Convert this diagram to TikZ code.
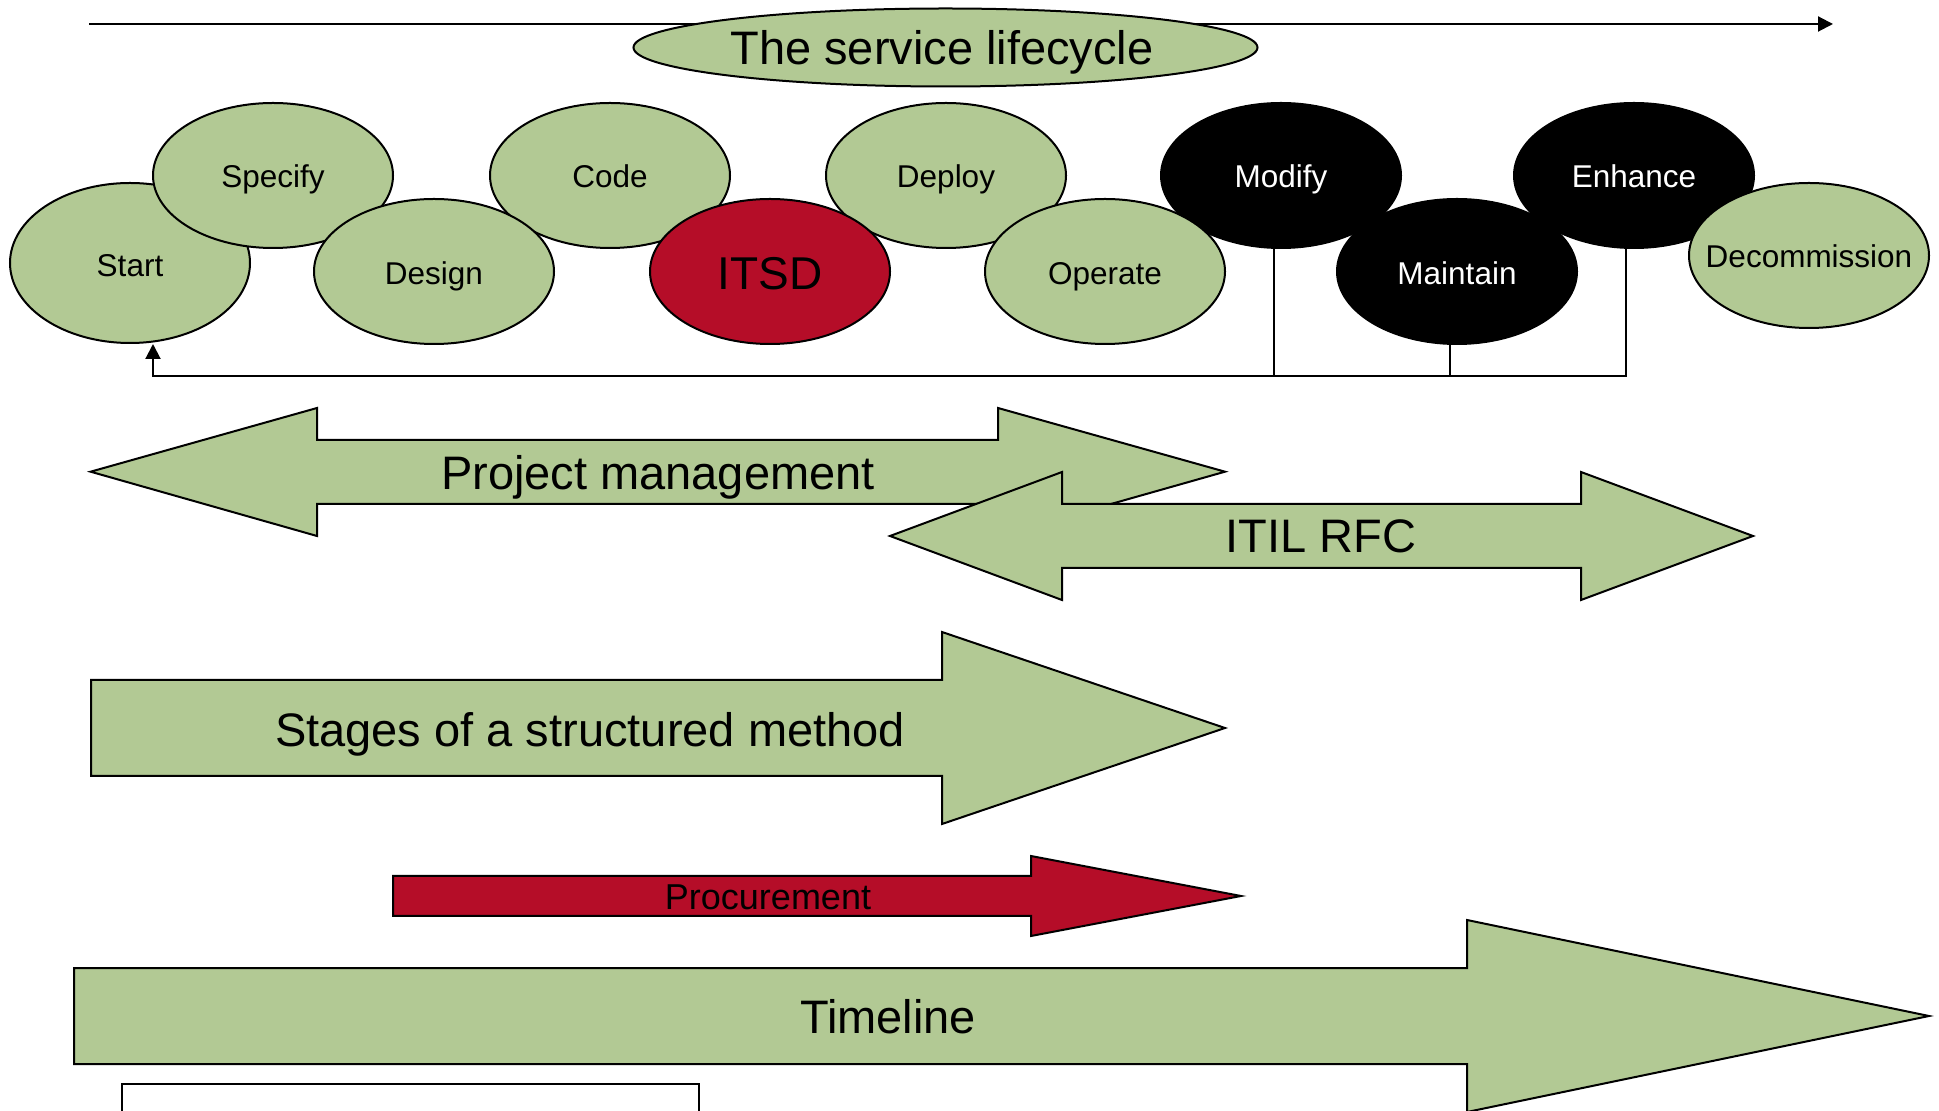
\documentclass[tikz,border=0pt]{standalone}
\usepackage{fontspec}
\setmainfont{Liberation Sans}
\usetikzlibrary{shapes.geometric,arrows.meta}
\definecolor{sage}{RGB}{178,201,148}
\definecolor{crimson}{RGB}{181,13,40}
\tikzset{
  conn/.style={draw=black, line width=1pt},
  tip/.style={-{Triangle[length=7.5pt,width=7.5pt]}},
  stage/.style={ellipse, draw=black, line width=1pt, fill=sage, inner sep=0pt,
                minimum width=120pt, minimum height=72.5pt},
  darkstage/.style={stage, fill=black},
  redstage/.style={stage, fill=crimson},
  lbl/.style={anchor=base, inner sep=0pt, font=\fontsize{15.75}{18}\selectfont},
  wlbl/.style={lbl, text=white},
  biglbl/.style={anchor=base, inner sep=0pt, font=\fontsize{23.5}{28}\selectfont},
  midlbl/.style={anchor=base, inner sep=0pt, font=\fontsize{18}{22}\selectfont},
  block/.style={draw=black, line width=1pt, fill=sage, line join=miter},
  redblock/.style={block, fill=crimson}
}
\begin{document}
\begin{tikzpicture}[x=0.5pt,y=-0.5pt]
\useasboundingbox (0,0) rectangle (1939,1111);
\clip (0,0) rectangle (1939,1111);

% lifecycle direction line and its title
\coordinate (lifeA) at (89,24);
\coordinate (lifeB) at (1833,24);
\draw[conn,tip] (lifeA) -- (lifeB);
\node[stage, minimum width=312pt, minimum height=39pt] (title) at (945.5,47.5) {};
\node[biglbl] (titleText) at (942,65) {The service lifecycle};

% lifecycle stages: back row first, front row on top
\node[stage, minimum height=80pt] (Start) at (130,263) {};
\node[stage] (Specify) at (273,175.5) {};
\node[stage] (Code) at (610,175.5) {};
\node[stage] (Deploy) at (946,175.5) {};
\node[darkstage] (Modify) at (1281,175.5) {};
\node[darkstage] (Enhance) at (1634,175.5) {};
\node[stage] (Design) at (434,271.5) {};
\node[redstage] (ITSD) at (770,271.5) {};
\node[stage] (Operate) at (1105,271.5) {};
\node[darkstage] (Maintain) at (1457,271.5) {};
\node[stage] (Decom) at (1809,255.5) {};

\node[lbl] (tStart) at (130,277) {Start};
\node[lbl] (tSpecify) at (273,188) {Specify};
\node[lbl] (tCode) at (610,188) {Code};
\node[lbl] (tDeploy) at (946,188) {Deploy};
\node[wlbl] (tModify) at (1281,188) {Modify};
\node[wlbl] (tEnhance) at (1634,188) {Enhance};
\node[lbl] (tDesign) at (434,285) {Design};
\node[anchor=base, inner sep=0pt, font=\fontsize{23}{27}\selectfont] (tITSD) at (770,290) {ITSD};
\node[lbl] (tOperate) at (1105,285) {Operate};
\node[wlbl] (tMaintain) at (1457,285) {Maintain};
\node[lbl] (tDecom) at (1809,268) {Decommission};

% feedback loop back to the start
\coordinate (loopL) at (153,376);
\draw[conn] ([xshift=-3.5pt]Modify.south) -- ([xshift=-3.5pt]Modify.south |- loopL);
\draw[conn] ([xshift=-3.5pt]Maintain.south) -- ([xshift=-3.5pt]Maintain.south |- loopL);
\draw[conn,tip] ([xshift=-4pt]Enhance.south) |- (loopL) -- (loopL |- Start.south);

% project management (double arrow)
\draw[block] (90.6,471.7) -- (317,408) -- (317,440) -- (998,440) -- (998,408)
  -- (1225,471.7) -- (998,536) -- (998,504) -- (317,504) -- (317,536) -- cycle;
\node[biglbl] (tPM) at (658,490) {Project management};

% ITIL RFC (double arrow)
\draw[block] (890,536) -- (1062,472) -- (1062,504) -- (1581,504) -- (1581,472)
  -- (1753,536) -- (1581,600) -- (1581,568) -- (1062,568) -- (1062,600) -- cycle;
\node[biglbl] (tRFC) at (1321,553) {ITIL RFC};

% structured method stages
\draw[block] (91,680) -- (942,680) -- (942,632) -- (1225,728) -- (942,824)
  -- (942,776) -- (91,776) -- cycle;
\node[biglbl] (tStages) at (590,747) {Stages of a structured method};

% procurement
\draw[redblock] (393,876) -- (1031,876) -- (1031,856) -- (1241,896) -- (1031,936)
  -- (1031,916) -- (393,916) -- cycle;
\node[midlbl] (tProc) at (768,909) {Procurement};

% timeline
\draw[block] (74,968) -- (1467,968) -- (1467,920) -- (1929,1016) -- (1467,1112)
  -- (1467,1064) -- (74,1064) -- cycle;
\node[biglbl] (tTime) at (888,1033) {Timeline};

% box below the timeline
\draw[conn, fill=white] (122,1084) rectangle (699,1130);
\end{tikzpicture}
\end{document}
